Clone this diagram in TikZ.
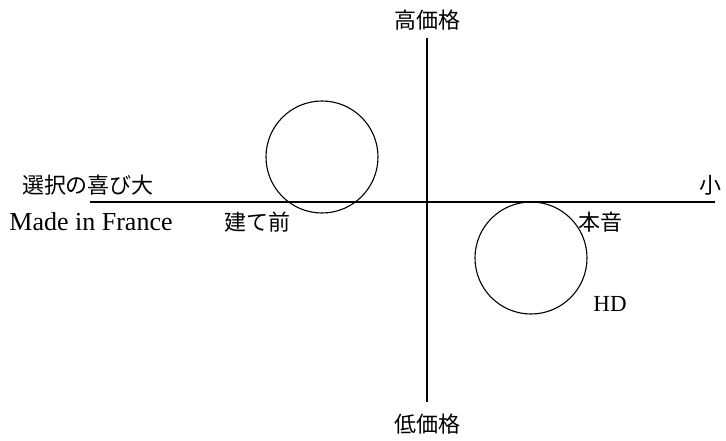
\documentclass[tikz,border=0pt]{standalone}
\usepackage{fontspec}
\setmainfont{Liberation Serif}
\newfontfamily\jpfont{Noto Sans CJK JP}
\usetikzlibrary{positioning}

\tikzset{
  axis/.style={line width=1.1pt},
  ring/.style={draw, circle, line width=1.1pt, minimum size=112pt, inner sep=0pt},
  jlabel/.style={font=\jpfont\fontsize{22}{22}\selectfont, inner sep=0pt},
  llabel/.style={font=\fontsize{23}{23}\selectfont, inner sep=0pt}
}

\begin{document}
\begin{tikzpicture}[x=1pt,y=-1pt]
    \useasboundingbox (0,0) rectangle (726,441);
    % Axes
    \coordinate (west) at (90,202);
    \coordinate (east) at (715,202);
    \coordinate (north) at (427,38);
    \coordinate (south) at (427,402);
    \draw[axis] (west) -- (east);
    \draw[axis] (north) -- (south);
    % Axis labels
    \node[jlabel] (high) at (427,20) {高価格};
    \node[jlabel] (low) at (427,424) {低価格};
    \node[jlabel] (joy) at (88,185) {選択の喜び大};
    \node[jlabel] (small) at (710,185) {小};
    \node[llabel, font=\fontsize{26}{26}\selectfont] (france) at (91,222) {Made in France};
    % Circles
    \node[ring] (front) at (322,157) {};
    \node[ring] (real) at (531,258) {};
    \node[jlabel] (tatemae) at (257,222) {建て前};
    \node[jlabel] (honne) at (600,222) {本音};
    \node[llabel] (hd) at (610,304) {HD};
\end{tikzpicture}
\end{document}
